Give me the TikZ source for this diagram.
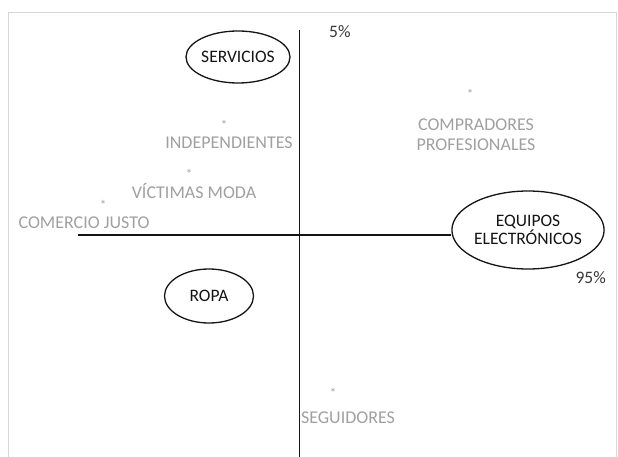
\documentclass[tikz,border=0pt]{standalone}
\usepackage{fontspec}
\setmainfont{Carlito}
\usetikzlibrary{shapes.geometric}
\definecolor{lbl}{RGB}{160,160,160}
\definecolor{ink}{RGB}{20,20,20}
\definecolor{pct}{RGB}{55,55,55}
\definecolor{frame}{RGB}{215,215,215}
\tikzset{
  oval/.style={ellipse, draw=ink, line width=1.3pt, text=ink, inner sep=0pt, align=center, font=\fontsize{17.5}{18}\selectfont},
  seg/.style={text=lbl, inner sep=0pt, align=center, font=\fontsize{18}{20}\selectfont},
  star/.style={text=lbl, inner sep=0pt, font=\fontsize{13}{13}\selectfont},
  pcttext/.style={text=pct, inner sep=0pt, font=\fontsize{17.5}{18}\selectfont},
  axis/.style={draw=ink, line width=1.6pt}
}
\begin{document}
\begin{tikzpicture}[x=1pt,y=-1pt]
\useasboundingbox (0,0) rectangle (618,457);
\draw[frame, line width=0.8pt] (8,457) -- (8,12) -- (616,12) -- (616,457);
% ovals
\node[oval, minimum width=90pt, minimum height=52pt] (servicios) at (238,57) {SERVICIOS};
\node[oval, minimum width=89pt, minimum height=54pt] (ropa) at (209,296) {ROPA};
\node[oval, minimum width=126pt, minimum height=78pt] (equipos) at (528,230) {EQUIPOS\\ELECTRÓNICOS};
% axes
\coordinate (vtop) at (299.5,30);
\coordinate (vbot) at (299.5,457);
\coordinate (hleft) at (78,235);
\draw[axis] (vtop) -- (vbot);
\draw[axis] (hleft) -- (hleft -| equipos.west);
% percentages
\node[pcttext, anchor=west] (p5) at (329,32) {5\%};
\node[pcttext, anchor=east] (p95) at (606,278) {95\%};
% segments
\node[star] (s1) at (224,125) {*};
\node[seg] (indep) at (229,143) {INDEPENDIENTES};
\node[star] (s2) at (189,174) {*};
\node[seg] (victimas) at (194,191) {VÍCTIMAS MODA};
\node[star] (s3) at (103,205) {*};
\node[seg] (comercio) at (84,223) {COMERCIO JUSTO};
\node[star] (s4) at (470,94) {*};
\node[seg] (compradores) at (476,135) {COMPRADORES\\PROFESIONALES};
\node[star] (s5) at (333,393) {*};
\node[seg] (seguidores) at (348,418) {SEGUIDORES};
\end{tikzpicture}
\end{document}
